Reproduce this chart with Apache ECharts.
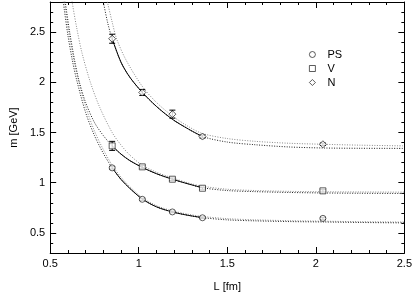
<!DOCTYPE html>
<html>
<head>
<meta charset="utf-8">
<script src="https://cdn.jsdelivr.net/npm/echarts@6/dist/echarts.min.js"></script>
<style>
  html, body { margin: 0; padding: 0; background: #fff; }
  #chart { width: 415px; height: 297px; }
</style>
</head>
<body>
<div id="chart"></div>
<script>
// lattice sizes L [fm]
const lattL = [0.85, 1.02, 1.19, 1.36, 2.04];
// masses [GeV] and errors
const psMass = [1.148, 0.835, 0.709, 0.651, 0.645];
const psErr = [0.012, 0.010, 0.008, 0.008, 0.010];
const vMass = [1.367, 1.158, 1.035, 0.945, 0.919];
const vErr = [0.045, 0.015, 0.012, 0.010, 0.012];
const nMass = [2.434, 1.899, 1.683, 1.460, 1.383];
const nErr = [0.045, 0.030, 0.040, 0.015, 0.012];

// fit curves (A = dark, B = grey)
const psFitL = [0.555, 0.58, 0.6, 0.625, 0.65, 0.7, 0.75, 0.8, 0.85, 0.9, 0.95, 1.02, 1.1, 1.19, 1.28, 1.36, 1.5, 1.66, 1.85, 2.04, 2.25, 2.5];
const psFitA = [3.05, 2.72, 2.47, 2.22, 2.02, 1.70, 1.47, 1.293, 1.148, 1.033, 0.943, 0.838, 0.760, 0.709, 0.675, 0.652, 0.630, 0.620, 0.613, 0.609, 0.604, 0.600];
const psFitB = [3.15, 2.82, 2.56, 2.30, 2.09, 1.76, 1.515, 1.33, 1.175, 1.055, 0.960, 0.852, 0.772, 0.720, 0.686, 0.664, 0.642, 0.630, 0.622, 0.617, 0.612, 0.608];

const vFitL = [0.565, 0.585, 0.61, 0.64, 0.665, 0.7, 0.75, 0.8, 0.85, 0.9, 0.95, 1.02, 1.1, 1.19, 1.28, 1.36, 1.5, 1.66, 1.85, 2.04, 2.25, 2.5];
const vFitA = [3.05, 2.80, 2.50, 2.20, 2.00, 1.80, 1.60, 1.47, 1.367, 1.285, 1.22, 1.153, 1.09, 1.035, 0.988, 0.950, 0.922, 0.911, 0.903, 0.898, 0.895, 0.893];
const vFitBL = [0.6, 0.624, 0.65, 0.68, 0.727, 0.78, 0.85, 0.9, 0.95, 1.02, 1.1, 1.19, 1.28, 1.36, 1.5, 1.66, 1.85, 2.04, 2.25, 2.5];
const vFitB = [3.08, 2.80, 2.54, 2.29, 2.00, 1.75, 1.50, 1.375, 1.275, 1.175, 1.105, 1.048, 0.998, 0.965, 0.935, 0.922, 0.914, 0.910, 0.908, 0.906];

const nFitL = [0.78, 0.8, 0.825, 0.85, 0.9, 0.95, 1.02, 1.1, 1.19, 1.28, 1.36, 1.5, 1.66, 1.85, 2.04, 2.25, 2.5];
const nFitA = [2.97, 2.80, 2.59, 2.434, 2.20, 2.05, 1.90, 1.76, 1.632, 1.535, 1.46, 1.405, 1.378, 1.356, 1.346, 1.343, 1.342];
const nFitBL = [0.805, 0.823, 0.85, 0.875, 0.929, 1.02, 1.1, 1.19, 1.28, 1.36, 1.5, 1.66, 1.85, 2.04, 2.25, 2.5];
const nFitB = [2.95, 2.80, 2.60, 2.434, 2.22, 1.96, 1.80, 1.665, 1.56, 1.49, 1.44, 1.412, 1.393, 1.383, 1.374, 1.367];

const xTicks = [0.5, 1, 1.5, 2, 2.5];
const yTicks = [0.5, 1, 1.5, 2, 2.5];

const FONT = 'Liberation Sans, Arial, sans-serif';

function pairs(xs, ys) { return xs.map((x, i) => [x, ys[i]]); }
function solidPart(xs, ys) { return pairs(xs, ys).filter(p => p[0] >= 0.85 && p[0] <= 1.36); }
function errData(m, e) { return lattL.map((l, i) => [l, m[i] - e[i], m[i] + e[i]]); }

function dotted(data, color) {
  return { type: 'line', data: data, smooth: 0.3, symbol: 'none', silent: true, z: 1,
    lineStyle: { color: color, width: 1, type: [1, 1.5] } };
}
function solid(data) {
  return { type: 'line', data: data, smooth: 0.3, symbol: 'none', silent: true, z: 2,
    lineStyle: { color: '#000', width: 1 } };
}
function errBars(data) {
  return {
    type: 'custom', data: data, z: 3, silent: true,
    renderItem: function (params, api) {
      const lo = api.coord([api.value(0), api.value(1)]);
      const hi = api.coord([api.value(0), api.value(2)]);
      const st = { stroke: '#000', lineWidth: 1 };
      return { type: 'group', children: [
        { type: 'line', shape: { x1: lo[0], y1: lo[1], x2: hi[0], y2: hi[1] }, style: st },
        { type: 'line', shape: { x1: lo[0] - 3, y1: lo[1], x2: lo[0] + 3, y2: lo[1] }, style: st },
        { type: 'line', shape: { x1: hi[0] - 3, y1: hi[1], x2: hi[0] + 3, y2: hi[1] }, style: st }
      ] };
    }
  };
}
function points(name, m, sym, size) {
  return { name: name, type: 'scatter', data: pairs(lattL, m), symbol: sym, symbolSize: size, z: 4,
    itemStyle: { color: '#fff', borderColor: '#000', borderWidth: 0.8 } };
}

function xAx(pos, labels) {
  return { type: 'value', position: pos, min: 0.5, max: 2.5, interval: 0.5,
    name: labels ? 'L [fm]' : '', nameLocation: 'middle', nameGap: 28,
    nameTextStyle: { color: '#000', fontSize: 11, fontFamily: FONT },
    axisLine: { onZero: false, lineStyle: { color: '#000', width: 1 } },
    axisTick: { inside: true, length: 6, lineStyle: { color: '#000' } },
    minorTick: { show: true, splitNumber: 5, length: 3, lineStyle: { color: '#000' } },
    axisLabel: { show: labels, color: '#000', fontSize: 11, fontFamily: FONT, margin: 5 },
    splitLine: { show: false } };
}
function yMajor(pos, labels) {
  return { type: 'value', position: pos, min: 0.3, max: 2.8,
    name: labels ? 'm [GeV]' : '', nameLocation: 'middle', nameGap: 27,
    nameTextStyle: { color: '#000', fontSize: 11, fontFamily: FONT },
    axisLine: { onZero: false, lineStyle: { color: '#000', width: 1 } },
    axisTick: { inside: true, length: 6, customValues: yTicks, lineStyle: { color: '#000' } },
    axisLabel: { show: labels, customValues: yTicks, color: '#000', fontSize: 11, fontFamily: FONT, margin: 5 },
    splitLine: { show: false } };
}
function yMinor(pos) {
  return { type: 'value', position: pos, min: 0.3, max: 2.8, interval: 0.1,
    axisLine: { show: false, onZero: false },
    axisTick: { inside: true, length: 3, lineStyle: { color: '#000' } },
    axisLabel: { show: false }, splitLine: { show: false } };
}

const option = {
  animation: false,
  backgroundColor: '#fff',
  grid: { left: 36, right: 9, top: 2, bottom: 36 },
  legend: {
    orient: 'vertical', left: 304, top: 44, itemWidth: 6, itemHeight: 6, itemGap: 3,
    data: [{ name: 'PS', icon: 'circle' }, { name: 'V', icon: 'rect' }, { name: 'N', icon: 'diamond' }],
    itemStyle: { color: '#fff', borderColor: '#000', borderWidth: 0.8 },
    textStyle: { color: '#000', fontSize: 11, fontFamily: FONT, lineHeight: 11, padding: [0, 0, 0, 7] }
  },
  xAxis: [xAx('bottom', true), xAx('top', false)],
  yAxis: [yMajor('left', true), yMinor('left'), yMajor('right', false), yMinor('right')],
  series: [
    dotted(pairs(psFitL, psFitB), '#8a8a8a'),
    dotted(pairs(psFitL, psFitA), '#222'),
    dotted(pairs(vFitBL, vFitB), '#8a8a8a'),
    dotted(pairs(vFitL, vFitA), '#222'),
    dotted(pairs(nFitBL, nFitB), '#8a8a8a'),
    dotted(pairs(nFitL, nFitA), '#222'),
    solid(solidPart(psFitL, psFitA)),
    solid(solidPart(vFitL, vFitA)),
    solid(solidPart(nFitL, nFitA)),
    errBars(errData(psMass, psErr)),
    errBars(errData(vMass, vErr)),
    errBars(errData(nMass, nErr)),
    points('PS', psMass, 'circle', 6),
    points('V', vMass, 'rect', 6),
    points('N', nMass, 'diamond', 7)
  ]
};

const chart = echarts.init(document.getElementById('chart'), null, { renderer: 'canvas' });
chart.setOption(option);
</script>
</body>
</html>
